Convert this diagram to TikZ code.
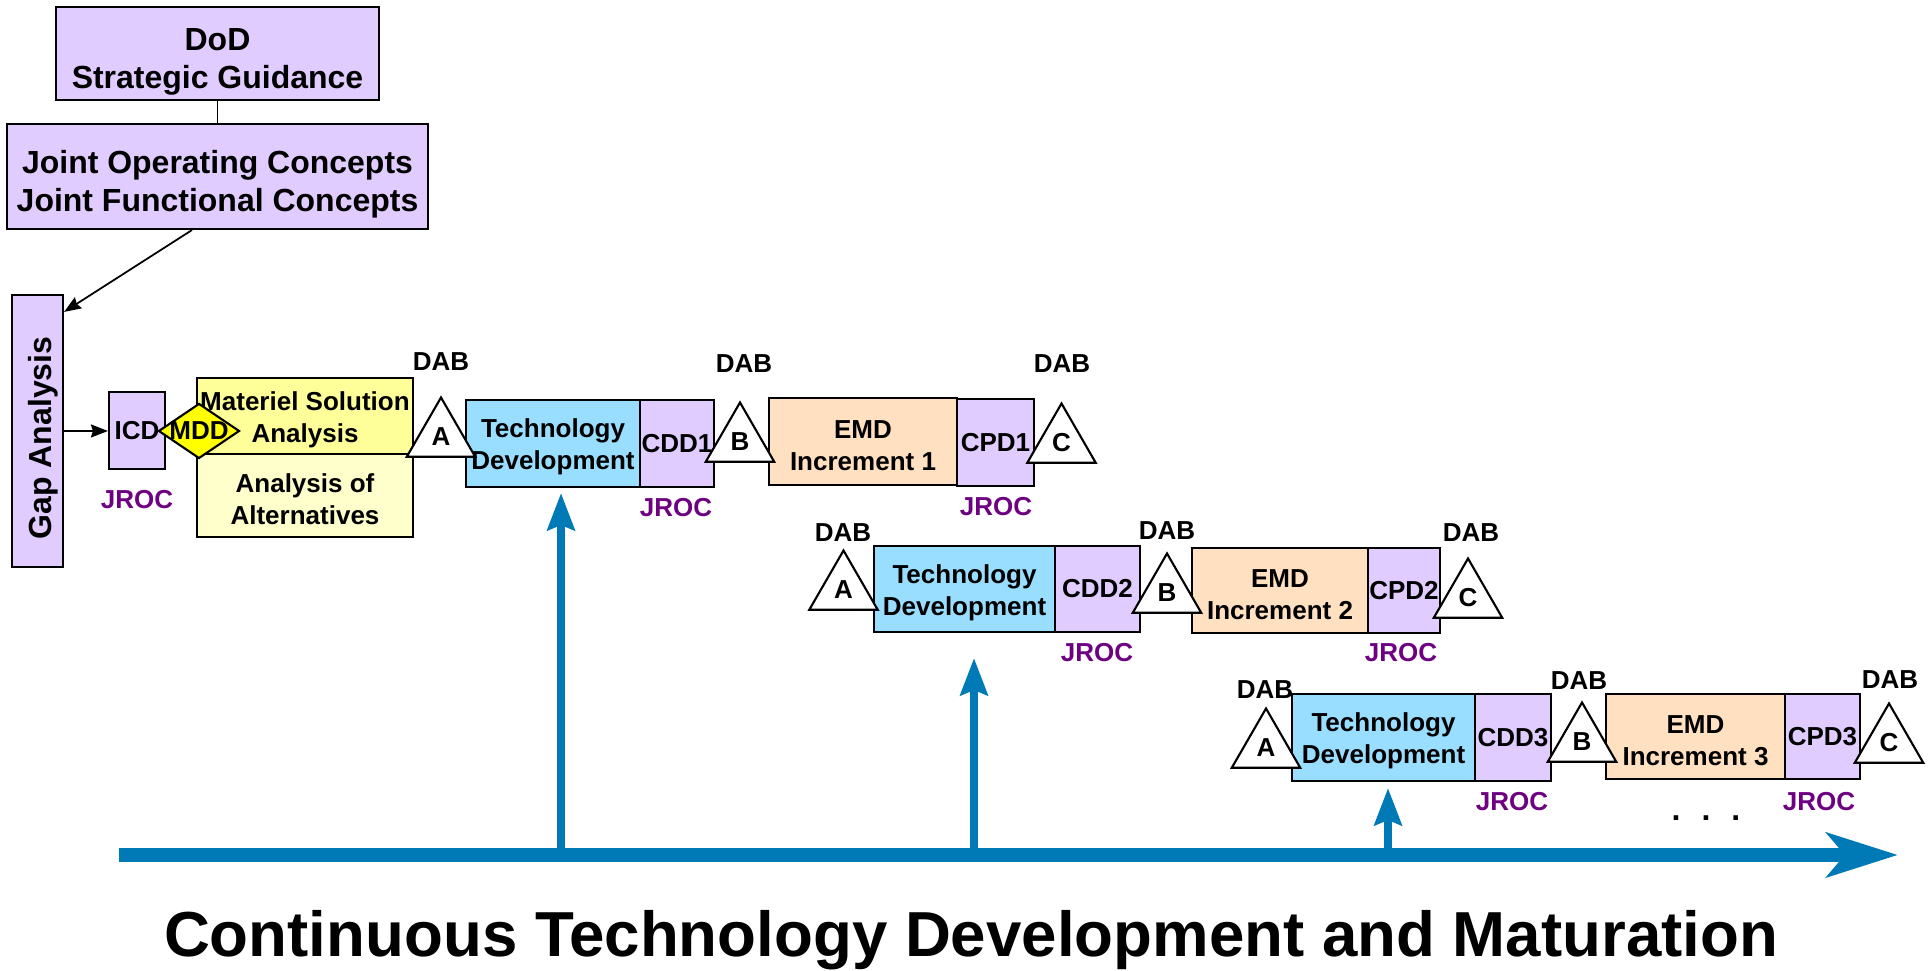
\documentclass[tikz,border=0pt]{standalone}
\usepackage{fontspec}
\setmainfont{Liberation Sans}
\usetikzlibrary{shapes.geometric, arrows.meta}
\definecolor{capbg}{RGB}{224,204,255}
\definecolor{techbg}{RGB}{153,221,255}
\definecolor{emdbg}{RGB}{255,224,192}
\definecolor{msabg}{RGB}{255,255,153}
\definecolor{aoabg}{RGB}{255,255,204}
\definecolor{mddbg}{RGB}{255,255,0}
\definecolor{jrocpurple}{RGB}{110,0,130}
\definecolor{flowblue}{RGB}{0,122,183}
\newcommand{\smallbold}{\bfseries\fontsize{7.4}{9.1}\selectfont}
\newcommand{\largebold}{\bfseries\fontsize{9.1}{10.8}\selectfont}
\newcommand{\titlebold}{\bfseries\fontsize{18.1}{21}\selectfont}
\newcommand{\lowsmall}{\rule{0pt}{7.4pt}}
\newcommand{\lowlarge}{\rule{0pt}{10.8pt}}

\begin{document}
\begin{tikzpicture}
        \tikzstyle{phase} = [rectangle, draw=black, line width=0.6pt, inner sep=0pt, align=center, font=\smallbold];
        \tikzstyle{capbox} = [phase, fill=capbg];
        \tikzstyle{bigcap} = [capbox, font=\largebold];
        \tikzstyle{techbox} = [phase, fill=techbg];
        \tikzstyle{emdbox} = [phase, fill=emdbg];
        \tikzstyle{milestone} = [regular polygon, regular polygon sides=3, draw=black, fill=white, line width=0.6pt, minimum size=0.79cm, inner sep=0pt, font=\smallbold];
        \tikzstyle{dab} = [font=\smallbold, inner sep=0pt];
        \tikzstyle{jroc} = [font=\smallbold, text=jrocpurple, inner sep=0pt];
        \tikzstyle{link} = [draw=black, line width=0.5pt, -{Stealth[length=0.17cm, width=0.13cm, inset=0.02cm]}];
        \tikzstyle{feed} = [draw=flowblue, line width=0.08cm, -{Stealth[length=0.37cm, width=0.27cm, inset=0.05cm]}];

        \useasboundingbox (0,0) rectangle (19.29,9.71);

        \node(dod) [bigcap, minimum width=3.23cm, minimum height=0.93cm] at (2.175,9.175) {\lowlarge DoD\\Strategic Guidance};
        \node(joc) [bigcap, minimum width=4.21cm, minimum height=1.05cm] at (2.175,7.945) {\lowlarge Joint Operating Concepts\\Joint Functional Concepts};
        \node(gap) [bigcap, minimum width=0.51cm, minimum height=2.72cm] at (0.375,5.40) {\hspace{0.12cm}\rotatebox{90}{Gap Analysis\hspace{0.14cm}}};
        \draw[draw=black, line width=0.5pt] (dod) -- (joc);
        \draw[link] ([xshift=-0.255cm]joc.south) -- ([yshift=-0.18cm]gap.north east);

        \node(icd) [capbox, minimum width=0.56cm, minimum height=0.77cm] at (1.37,5.405) {ICD};
        \node(jrocicd) [jroc] at (1.37,4.71) {JROC};
        \draw[link] (gap.east) -- (gap.east -| icd.west);
        \node(msa) [phase, fill=msabg, minimum width=2.16cm, minimum height=0.76cm] at (3.05,5.55) {\lowsmall Materiel Solution\\Analysis};
        \node(aoa) [phase, fill=aoabg, minimum width=2.16cm, minimum height=0.83cm] at (3.05,4.755) {\lowsmall Analysis of\\Alternatives};
        \node(mdd) [diamond, draw=black, line width=0.6pt, fill=mddbg, inner sep=0pt, minimum width=0.81cm, minimum height=0.55cm, label={[font=\smallbold]center:MDD}] at (1.99,5.40) {};

        \node(td1) [techbox, minimum width=1.74cm, minimum height=0.87cm] at (5.53,5.275) {\lowsmall Technology\\Development};
        \node(cdd1) [capbox, minimum width=0.74cm, minimum height=0.87cm] at (6.77,5.275) {CDD1};
        \node(emd1) [emdbox, minimum width=1.88cm, minimum height=0.87cm] at (8.63,5.295) {\lowsmall EMD\\Increment 1};
        \node(cpd1) [capbox, minimum width=0.77cm, minimum height=0.87cm] at (9.955,5.285) {CPD1};
        \node(ma1) [milestone] at (4.41,5.34) {A};
        \node(mb1) [milestone] at (7.40,5.29) {B};
        \node(mc1) [milestone] at (10.615,5.28) {C};
        \node(daba1) [dab] at (4.41,6.09) {DAB};
        \node(dabb1) [dab] at (7.44,6.07) {DAB};
        \node(dabc1) [dab] at (10.62,6.07) {DAB};
        \node(jroccdd1) [jroc] at (6.76,4.63) {JROC};
        \node(jroccpd1) [jroc] at (9.96,4.64) {JROC};

        \node(td2) [techbox, minimum width=1.81cm, minimum height=0.86cm] at (9.645,3.82) {\lowsmall Technology\\Development};
        \node(cdd2) [capbox, minimum width=0.85cm, minimum height=0.86cm] at (10.975,3.82) {CDD2};
        \node(emd2) [emdbox, minimum width=1.76cm, minimum height=0.85cm] at (12.80,3.805) {\lowsmall EMD\\Increment 2};
        \node(cpd2) [capbox, minimum width=0.72cm, minimum height=0.85cm] at (14.04,3.805) {CPD2};
        \node(ma2) [milestone] at (8.435,3.81) {A};
        \node(mb2) [milestone] at (11.67,3.78) {B};
        \node(mc2) [milestone] at (14.68,3.73) {C};
        \node(daba2) [dab] at (8.43,4.38) {DAB};
        \node(dabb2) [dab] at (11.67,4.40) {DAB};
        \node(dabc2) [dab] at (14.71,4.38) {DAB};
        \node(jroccdd2) [jroc] at (10.97,3.18) {JROC};
        \node(jroccpd2) [jroc] at (14.01,3.18) {JROC};

        \node(td3) [techbox, minimum width=1.83cm, minimum height=0.87cm] at (13.835,2.335) {\lowsmall Technology\\Development};
        \node(cdd3) [capbox, minimum width=0.76cm, minimum height=0.87cm] at (15.13,2.335) {CDD3};
        \node(emd3) [emdbox, minimum width=1.79cm, minimum height=0.85cm] at (16.955,2.345) {\lowsmall EMD\\Increment 3};
        \node(cpd3) [capbox, minimum width=0.75cm, minimum height=0.85cm] at (18.225,2.345) {CPD3};
        \node(ma3) [milestone] at (12.66,2.23) {A};
        \node(mb3) [milestone] at (15.82,2.29) {B};
        \node(mc3) [milestone] at (18.89,2.28) {C};
        \node(daba3) [dab] at (12.65,2.81) {DAB};
        \node(dabb3) [dab] at (15.79,2.90) {DAB};
        \node(dabc3) [dab] at (18.90,2.91) {DAB};
        \node(jroccdd3) [jroc] at (15.12,1.69) {JROC};
        \node(jroccpd3) [jroc] at (18.19,1.69) {JROC};
        \node(more) [anchor=base, font=\largebold, inner sep=0pt] at (17.06,1.50) {.\hspace{0.21cm}.\hspace{0.21cm}.};

        \coordinate (axisstart) at (1.19,1.16);
        \coordinate (axisend) at (18.98,1.16);
        \coordinate (tip1) at (5.61,4.78);
        \coordinate (tip2) at (9.74,3.13);
        \coordinate (tip3) at (13.88,1.83);
        \draw[feed] (tip1 |- axisstart) -- (tip1);
        \draw[feed] (tip2 |- axisstart) -- (tip2);
        \draw[feed] (tip3 |- axisstart) -- (tip3);
        \draw[draw=flowblue, line width=0.14cm, -{Stealth[length=0.71cm, width=0.44cm, inset=0.18cm]}] (axisstart) -- (axisend);

        \node(title) [anchor=base, font=\titlebold, inner sep=0pt] at (9.71,0.14) {Continuous Technology Development and Maturation};

    \end{tikzpicture}
\end{document}
